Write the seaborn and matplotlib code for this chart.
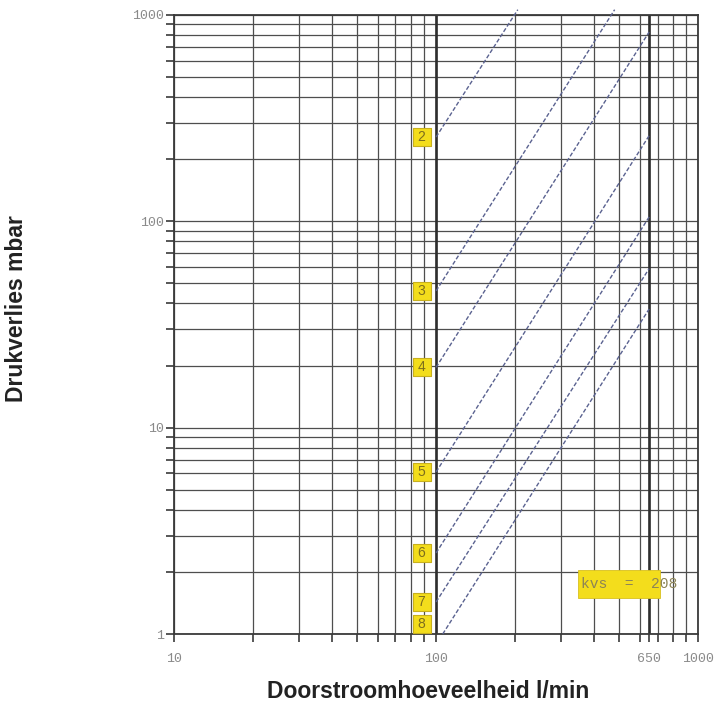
import matplotlib
matplotlib.use("Agg")
import matplotlib.pyplot as plt
from matplotlib.patches import Rectangle
from matplotlib.ticker import FixedLocator, FixedFormatter, LogLocator, NullFormatter
import pandas as pd
import seaborn as sns

# Pressure-loss curves: flow (l/min) and pressure drop (mbar) at both ends
curve_ids = ["2", "3", "4", "5", "6", "7", "8"]
flow_start = [100, 100, 100, 100, 100, 100, 106]
dp_start = [256, 46, 19.6, 6.1, 2.47, 1.43, 1.0]
flow_end = [205, 480, 650, 650, 650, 650, 650]
dp_end = [1060, 1060, 827, 260, 105, 59, 37.6]

# Curve tags sit just left of the 100 l/min line
tag_flow = 88
tag_dp = [256, 46, 19.6, 6.1, 2.47, 1.43, 1.12]

x_ticks = [10, 100, 650, 1000]
x_tick_labels = ["10", "100", "650", "1000"]
y_ticks = [1, 10, 100, 1000]
y_tick_labels = ["1", "10", "100", "1000"]
kvs_text = "kvs  =  208"

rows = []
for cid, f0, p0, f1, p1 in zip(curve_ids, flow_start, dp_start, flow_end, dp_end):
    rows.append({"curve": cid, "flow": f0, "dp": p0})
    rows.append({"curve": cid, "flow": f1, "dp": p1})
df = pd.DataFrame(rows)
tags = pd.DataFrame({"curve": curve_ids, "flow": [tag_flow] * len(curve_ids),
                     "dp": tag_dp})

sns.set_style("white")
plt.rcParams["font.family"] = ["Liberation Sans", "DejaVu Sans"]

YELLOW = "#f3dd1c"
GRID = "#4e4e4e"

fig, ax = plt.subplots(figsize=(7.25, 7.10), dpi=100)
fig.subplots_adjust(left=0.24, right=0.963, top=0.979, bottom=0.107)
ax.set_xscale("log")
ax.set_yscale("log")
ax.set_xlim(10, 1000)
ax.set_ylim(1, 1000)

# log grid
ax.xaxis.set_major_locator(FixedLocator(x_ticks))
ax.xaxis.set_major_formatter(FixedFormatter(x_tick_labels))
ax.xaxis.set_minor_locator(LogLocator(base=10, subs=range(2, 10)))
ax.xaxis.set_minor_formatter(NullFormatter())
ax.yaxis.set_major_locator(FixedLocator(y_ticks))
ax.yaxis.set_major_formatter(FixedFormatter(y_tick_labels))
ax.yaxis.set_minor_locator(LogLocator(base=10, subs=range(2, 10)))
ax.yaxis.set_minor_formatter(NullFormatter())
ax.grid(True, which="both", color=GRID, linewidth=0.9, zorder=0)
ax.set_axisbelow(True)

for v in (100, 650):
    ax.axvline(v, color="#2e2e2e", linewidth=1.9, zorder=1)

sns.lineplot(data=df, x="flow", y="dp", units="curve", estimator=None,
             sort=False, color="#5a6290", linewidth=1.0,
             linestyle=(0, (3, 1.5)), ax=ax, zorder=3, legend=False)
for ln in ax.get_lines()[-len(curve_ids):]:
    ln.set_clip_on(False)

# yellow square tags with the curve number
sns.scatterplot(data=tags, x="flow", y="dp", marker="s", s=165, color=YELLOW,
                edgecolor="#c8b01e", linewidth=0.8, ax=ax, zorder=5,
                legend=False)
for cid, p in zip(curve_ids, tag_dp):
    ax.text(tag_flow, p, cid, ha="center", va="center", fontsize=10,
            color="#7d6e1c", zorder=6)

ax.add_patch(Rectangle((348, 1.5), 716 - 348, 2.05 - 1.5, facecolor=YELLOW,
                       edgecolor="#d8c020", linewidth=0.6, zorder=5))
ax.text(358, 1.74, kvs_text, family="Liberation Mono", fontsize=10.5,
        color="#8c8456", ha="left", va="center", zorder=6)

for s in ax.spines.values():
    s.set_visible(True)
    s.set_color("#3a3a3a")
    s.set_linewidth(1.3)

ax.tick_params(which="both", direction="out", length=6, width=1.2,
               color="#3a3a3a", left=True, bottom=True)
ax.tick_params(axis="x", which="major", pad=8)
ax.tick_params(axis="y", which="major", pad=1.5)
for lab in ax.get_xticklabels() + ax.get_yticklabels():
    lab.set_family("Liberation Mono")
    lab.set_fontsize(9.5)
    lab.set_color("#8a8a8a")

ax.set_xlabel("Doorstroomhoeveelheid l/min", fontsize=16.5, fontweight="bold",
              color="#222222")
ax.set_ylabel("Drukverlies mbar", fontsize=16.5, fontweight="bold",
              color="#222222")
ax.xaxis.set_label_coords(0.484, -0.075)
ax.yaxis.set_label_coords(-0.279, 0.525)

fig.savefig("out.png", dpi=100, facecolor="white")
